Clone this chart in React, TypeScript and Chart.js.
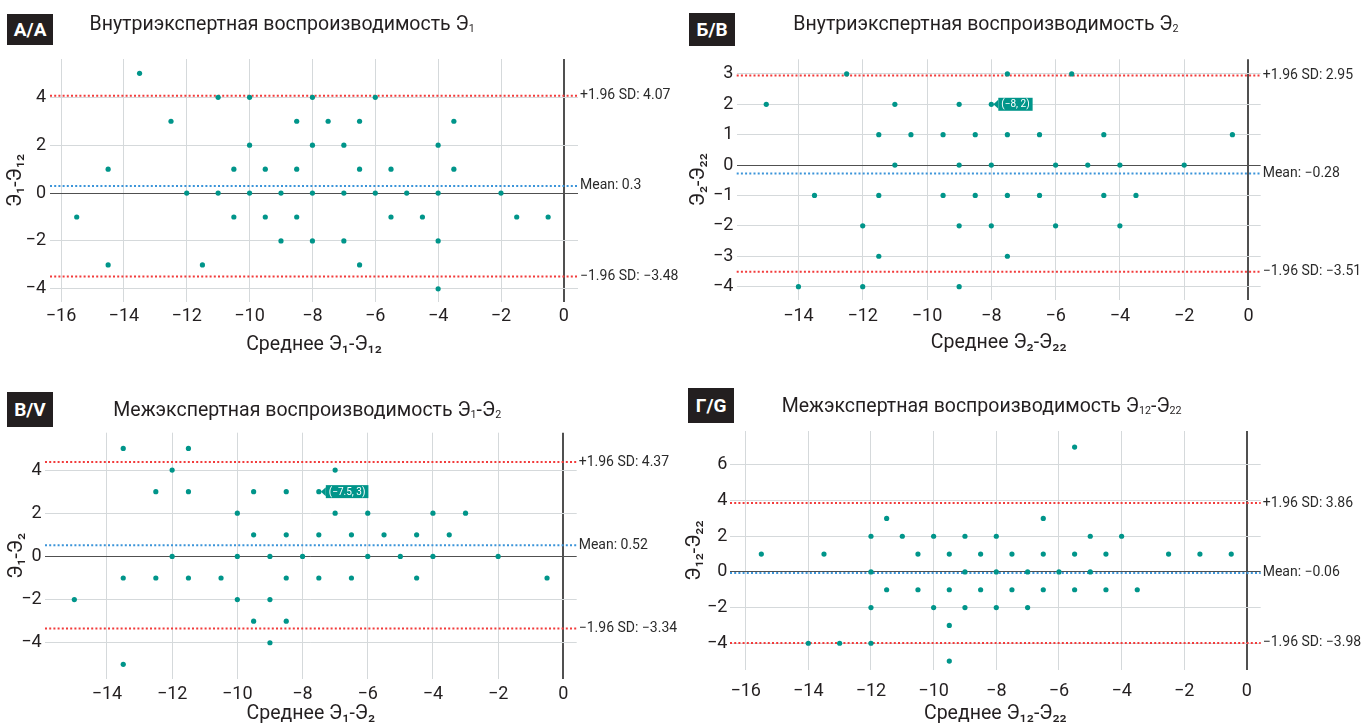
import React, { useEffect, useRef } from 'react';
import { Chart, registerables } from 'chart.js';
Chart.register(...registerables);

const FONT = 'Roboto, "Noto Sans", "DejaVu Sans", sans-serif';
const TEAL = '#00958a';

// ---------- Panel A: Внутриэкспертная воспроизводимость Э1 ----------
const aX = [-13.5, -11, -10, -8, -6, -12.5, -8.5, -7.5, -6.5, -3.5, -10, -8, -7, -4, -14.5, -10.5, -9.5, -8.5, -6.5, -5.5, -3.5, -12, -11, -10, -9, -8, -7, -6, -5, -4, -2, -15.5, -10.5, -9.5, -8.5, -5.5, -4.5, -1.5, -0.5, -9, -8, -7, -4, -14.5, -11.5, -6.5, -4];
const aY = [5, 4, 4, 4, 4, 3, 3, 3, 3, 3, 2, 2, 2, 2, 1, 1, 1, 1, 1, 1, 1, 0, 0, 0, 0, 0, 0, 0, 0, 0, 0, -1, -1, -1, -1, -1, -1, -1, -1, -2, -2, -2, -2, -3, -3, -3, -4];
const aLimits = [4.07, 0.3, -3.48];
const aLimitLabels = ['+1.96 SD: 4.07', 'Mean: 0.3', '\u22121.96 SD: \u22123.48'];

// ---------- Panel B: Внутриэкспертная воспроизводимость Э2 ----------
const bX = [-12.5, -7.5, -5.5, -15, -11, -9, -8, -11.5, -10.5, -9.5, -8.5, -7.5, -6.5, -4.5, -0.5, -11, -9, -8, -6, -5, -4, -2, -13.5, -11.5, -9.5, -8.5, -7.5, -6.5, -4.5, -3.5, -12, -9, -8, -6, -4, -11.5, -7.5, -14, -12, -9];
const bY = [3, 3, 3, 2, 2, 2, 2, 1, 1, 1, 1, 1, 1, 1, 1, 0, 0, 0, 0, 0, 0, 0, -1, -1, -1, -1, -1, -1, -1, -1, -2, -2, -2, -2, -2, -3, -3, -4, -4, -4];
const bLimits = [2.95, -0.28, -3.51];
const bLimitLabels = ['+1.96 SD: 2.95', 'Mean: \u22120.28', '\u22121.96 SD: \u22123.51'];
const bTip = { x: -8, y: 2, text: '(\u22128, 2)' };

// ---------- Panel C: Межэкспертная воспроизводимость Э1-Э2 ----------
const cX = [-13.5, -11.5, -12, -7, -12.5, -11.5, -9.5, -8.5, -7.5, -10, -7, -6, -4, -3, -9.5, -8.5, -7.5, -6.5, -5.5, -4.5, -3.5, -12, -10, -9, -8, -6, -5, -4, -2, -13.5, -12.5, -11.5, -10.5, -8.5, -7.5, -6.5, -4.5, -0.5, -15, -10, -9, -9.5, -8.5, -9, -13.5];
const cY = [5, 5, 4, 4, 3, 3, 3, 3, 3, 2, 2, 2, 2, 2, 1, 1, 1, 1, 1, 1, 1, 0, 0, 0, 0, 0, 0, 0, 0, -1, -1, -1, -1, -1, -1, -1, -1, -1, -2, -2, -2, -3, -3, -4, -5];
const cLimits = [4.37, 0.52, -3.34];
const cLimitLabels = ['+1.96 SD: 4.37', 'Mean: 0.52', '\u22121.96 SD: \u22123.34'];
const cTip = { x: -7.5, y: 3, text: '(\u22127.5, 3)' };

// ---------- Panel D: Межэкспертная воспроизводимость Э12-Э22 ----------
const dX = [-5.5, -11.5, -6.5, -12, -11, -10, -9, -8, -5, -4, -15.5, -13.5, -10.5, -9.5, -8.5, -7.5, -6.5, -5.5, -4.5, -2.5, -1.5, -0.5, -12, -9, -8, -7, -6, -5, -11.5, -10.5, -9.5, -8.5, -7.5, -6.5, -5.5, -4.5, -3.5, -12, -10, -9, -8, -7, -9.5, -14, -13, -12, -9.5];
const dY = [7, 3, 3, 2, 2, 2, 2, 2, 2, 2, 1, 1, 1, 1, 1, 1, 1, 1, 1, 1, 1, 1, 0, 0, 0, 0, 0, 0, -1, -1, -1, -1, -1, -1, -1, -1, -1, -2, -2, -2, -2, -2, -3, -4, -4, -4, -5];
const dLimits = [3.86, -0.06, -3.98];
const dLimitLabels = ['+1.96 SD: 3.86', 'Mean: \u22120.06', '\u22121.96 SD: \u22123.98'];

const LIMIT_COLORS = ['#f23b3b', '#3b94d9', '#f23b3b'];

const fmt = (v: number) => (v < 0 ? '\u2212' + Math.abs(v) : String(v));

type PanelProps = {
  xs: number[]; ys: number[]; limits: number[]; limitLabels: string[];
  tip?: { x: number; y: number; text: string } | null;
  xRange: [number, number]; yRange: [number, number]; yStep: number;
  xTitle: string; yTitle: string;
  box: { left: number; top: number; width: number; height: number };
  area: { l: number; t: number; r: number; b: number };
  yTickPad: number; xTickPad: number; yTitlePad: number; xTitlePad: number;
};

function Panel(p: PanelProps) {
  const ref = useRef<HTMLCanvasElement | null>(null);
  useEffect(() => {
    const canvas = ref.current!;
    const { box, area } = p;
    const yAxisW = area.l - box.left;
    const xAxisH = box.top + box.height - area.b;
    const padTop = area.t - box.top;
    const padRight = box.left + box.width - area.r;

    const refPlugin = {
      id: 'refLines',
      beforeDatasetsDraw(chart: any) {
        const { ctx, chartArea } = chart;
        const y = chart.scales.y;
        p.limits.forEach((v, i) => {
          const py = y.getPixelForValue(v);
          ctx.save();
          ctx.strokeStyle = LIMIT_COLORS[i];
          ctx.lineWidth = 2;
          ctx.setLineDash([2, 2.2]);
          ctx.beginPath();
          ctx.moveTo(chartArea.left, py);
          ctx.lineTo(chartArea.right, py);
          ctx.stroke();
          ctx.setLineDash([]);
          ctx.fillStyle = '#2b2b2b';
          ctx.font = `14px ${FONT}`;
          ctx.textAlign = 'left';
          ctx.textBaseline = 'middle';
          ctx.fillText(p.limitLabels[i], chartArea.right + 2, py);
          ctx.restore();
        });
      },
      afterDatasetsDraw(chart: any) {
        if (!p.tip) return;
        const { ctx } = chart;
        const px = chart.scales.x.getPixelForValue(p.tip.x);
        const py = chart.scales.y.getPixelForValue(p.tip.y);
        ctx.save();
        ctx.font = `10px ${FONT}`;
        const tw = ctx.measureText(p.tip.text).width;
        const bx = px + 7;
        const bh = 13;
        ctx.fillStyle = TEAL;
        ctx.beginPath();
        ctx.moveTo(px + 2, py);
        ctx.lineTo(bx, py - 4.5);
        ctx.lineTo(bx, py + 4.5);
        ctx.closePath();
        ctx.fill();
        ctx.fillRect(bx, py - bh / 2, tw + 6, bh);
        ctx.fillStyle = '#ffffff';
        ctx.textAlign = 'left';
        ctx.textBaseline = 'middle';
        ctx.fillText(p.tip.text, bx + 3, py + 0.5);
        ctx.restore();
      },
    };

    const gridColor = (c: any) => (c.tick && c.tick.value === 0 ? '#505050' : '#d5d9db');

    const chart = new Chart(canvas, {
      type: 'scatter',
      data: {
        datasets: [
          {
            data: p.xs.map((x, i) => ({ x, y: p.ys[i] })),
            pointRadius: 2.6,
            pointHoverRadius: 2.6,
            pointBackgroundColor: TEAL,
            pointBorderWidth: 0,
            showLine: false,
          },
        ],
      },
      options: {
        animation: false,
        responsive: false,
        events: [],
        layout: { padding: { left: 0, top: padTop, right: padRight, bottom: 0 } },
        plugins: { legend: { display: false }, tooltip: { enabled: false } },
        scales: {
          x: {
            type: 'linear',
            min: p.xRange[0],
            max: p.xRange[1],
            ticks: {
              stepSize: 2,
              includeBounds: false,
              autoSkip: false,
              maxRotation: 0,
              callback: (v: any) => fmt(Number(v)),
              padding: p.xTickPad,
              color: '#231f20',
              font: { size: 18, family: FONT },
            },
            grid: {
              drawTicks: false,
              color: gridColor,
              lineWidth: (c: any) => (c.tick && c.tick.value === 0 ? 2 : 1),
            },
            border: { display: false },
            title: {
              display: true,
              text: p.xTitle,
              color: '#231f20',
              font: { size: 19.5, family: FONT },
              padding: { top: 0, bottom: p.xTitlePad },
            },
            afterFit: (s: any) => { s.height = xAxisH; },
          },
          y: {
            type: 'linear',
            min: p.yRange[0],
            max: p.yRange[1],
            ticks: {
              stepSize: p.yStep,
              includeBounds: false,
              callback: (v: any) => fmt(Number(v)),
              padding: p.yTickPad,
              color: '#231f20',
              font: { size: 18, family: FONT },
            },
            grid: {
              drawTicks: false,
              color: gridColor,
              lineWidth: 1,
            },
            border: { display: false },
            title: {
              display: true,
              text: p.yTitle,
              color: '#231f20',
              font: { size: 19.5, family: FONT },
              padding: { top: p.yTitlePad, bottom: 0 },
            },
            afterFit: (s: any) => { s.width = yAxisW; },
          },
        },
      },
      plugins: [refPlugin],
    } as any);
    return () => chart.destroy();
  }, []);
  const { box } = p;
  return (
    <canvas
      ref={ref}
      width={box.width}
      height={box.height}
      style={{ position: 'absolute', left: box.left, top: box.top, width: box.width, height: box.height }}
    />
  );
}

function Badge({ text, left, top, w, h }: { text: string; left: number; top: number; w: number; h: number }) {
  return (
    <div
      style={{
        position: 'absolute', left, top, width: w, height: h, background: '#231f20', color: '#fff',
        fontFamily: FONT, fontWeight: 700, fontSize: 19, display: 'flex', alignItems: 'center', justifyContent: 'center',
      }}
    >
      {text}
    </div>
  );
}

const subStyle: React.CSSProperties = { fontSize: '0.55em', verticalAlign: '-0.2em' };

function Title({ left, top, children }: { left: number; top: number; children: React.ReactNode }) {
  return (
    <div style={{ position: 'absolute', left, top, fontFamily: FONT, fontSize: 19.5, lineHeight: 1, color: '#231f20', whiteSpace: 'nowrap' }}>
      {children}
    </div>
  );
}

export default function App() {
  return (
    <div style={{ position: 'absolute', left: 0, top: 0, width: 1365, height: 726, background: '#fff', overflow: 'hidden' }}>
      <Panel
        xs={aX} ys={aY} limits={aLimits} limitLabels={aLimitLabels} tip={null}
        xRange={[-16.35, 0.45]} yRange={[-4.55, 5.6]} yStep={2}
        xTitle={'Среднее Э\u2081-Э\u2081\u2082'} yTitle={'Э\u2081-Э\u2081\u2082'}
        box={{ left: 0, top: 0, width: 682, height: 363 }}
        area={{ l: 50, t: 59, r: 578, b: 302 }}
        yTickPad={4} xTickPad={4} yTitlePad={4.5} xTitlePad={6}
      />
      <Panel
        xs={bX} ys={bY} limits={bLimits} limitLabels={bLimitLabels} tip={bTip}
        xRange={[-15.92, 0.38]} yRange={[-4.44, 3.48]} yStep={1}
        xTitle={'Среднее Э\u2082-Э\u2082\u2082'} yTitle={'Э\u2082-Э\u2082\u2082'}
        box={{ left: 682, top: 0, width: 683, height: 363 }}
        area={{ l: 736.7, t: 59.3, r: 1260.7, b: 300 }}
        yTickPad={3.4} xTickPad={6} yTitlePad={5} xTitlePad={8}
      />
      <Panel
        xs={cX} ys={cY} limits={cLimits} limitLabels={cLimitLabels} tip={cTip}
        xRange={[-15.9, 0.41]} yRange={[-5.68, 5.73]} yStep={2}
        xTitle={'Среднее Э\u2081-Э\u2082'} yTitle={'Э\u2081-Э\u2082'}
        box={{ left: 0, top: 363, width: 682, height: 363 }}
        area={{ l: 45, t: 432.7, r: 576.7, b: 679 }}
        yTickPad={3.3} xTickPad={4.5} yTitlePad={5.2} xTitlePad={0}
      />
      <Panel
        xs={dX} ys={dY} limits={dLimits} limitLabels={dLimitLabels} tip={null}
        xRange={[-16.5, 0.44]} yRange={[-5.5, 7.9]} yStep={2}
        xTitle={'Среднее Э\u2081\u2082-Э\u2082\u2082'} yTitle={'Э\u2081\u2082-Э\u2082\u2082'}
        box={{ left: 682, top: 363, width: 683, height: 363 }}
        area={{ l: 730, t: 431, r: 1260.7, b: 670 }}
        yTickPad={2.7} xTickPad={11} yTitlePad={1.5} xTitlePad={0}
      />
      <Badge text="А/A" left={7.3} top={14} w={45.7} h={31} />
      <Badge text="Б/B" left={689.3} top={12.7} w={45.7} h={33} />
      <Badge text="В/V" left={7.3} top={392} w={45.4} h={35} />
      <Badge text="Г/G" left={688.3} top={387.7} w={45.7} h={35} />
      <Title left={89.5} top={14.3}>Внутриэкспертная воспроизводимость Э<span style={subStyle}>1</span></Title>
      <Title left={793.3} top={14.3}>Внутриэкспертная воспроизводимость Э<span style={subStyle}>2</span></Title>
      <Title left={113.3} top={400.3}>Межэкспертная воспроизводимость Э<span style={subStyle}>1</span>-Э<span style={subStyle}>2</span></Title>
      <Title left={781.7} top={396.3}>Межэкспертная воспроизводимость Э<span style={subStyle}>12</span>-Э<span style={subStyle}>22</span></Title>
    </div>
  );
}
